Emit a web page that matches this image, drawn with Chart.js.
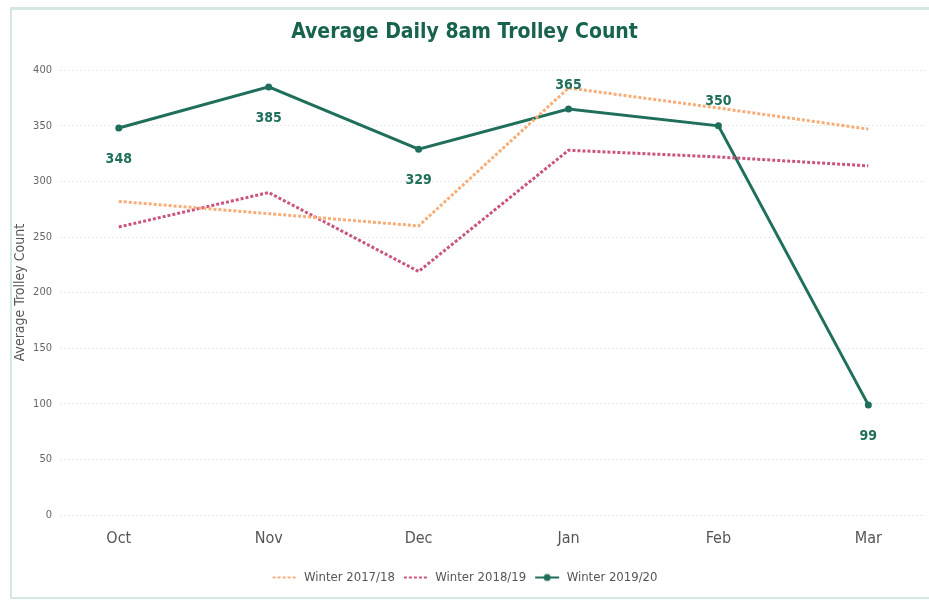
<!DOCTYPE html>
<html>
<head>
<meta charset="utf-8">
<script src="https://cdn.jsdelivr.net/npm/chart.js@4.4.1/dist/chart.umd.min.js"></script>
<style>
  html, body { margin: 0; padding: 0; background: #fff; overflow: hidden; }
  #frame { position: absolute; left: 10px; top: 7px; width: 940px; height: 587px;
           border: 2px solid #d4e8e3; border-top-width: 3px; }
  #wrap { position: absolute; left: 0; top: 0; width: 929px; height: 600px; }
</style>
</head>
<body>
<div id="frame"></div>
<div id="wrap"><canvas id="chart"></canvas></div>
<script>
var months = ['Oct', 'Nov', 'Dec', 'Jan', 'Feb', 'Mar'];
var winter1718 = [282, 271, 260, 384, 366, 347];
var winter1819 = [259, 290, 219, 328, 322, 314];
var winter1920 = [348, 385, 329, 365, 350, 99];
var yTicks = [0, 50, 100, 150, 200, 250, 300, 350, 400];

var labels = ['Winter 2017/18', 'Winter 2018/19', 'Winter 2019/20'];
var colors = ['#f7ad78', '#c9547f', '#1f6f5c'];
var labelSide = ['below', 'below', 'below', 'above', 'above', 'below'];

var font = "'Liberation Sans Narrow', 'DejaVu Sans Condensed', 'Roboto', sans-serif";

var toPoints = (arr) => arr.map((v, i) => ({ x: i, y: v }));

// small legend icons: line (dashed or solid) with optional dot
var legendIcon = (color, dash, dot) => {
  var c = document.createElement('canvas');
  c.width = 26; c.height = 10;
  var g = c.getContext('2d');
  g.strokeStyle = color;
  g.lineWidth = 2;
  g.setLineDash(dash);
  g.beginPath(); g.moveTo(1, 5); g.lineTo(25, 5); g.stroke();
  if (dot) {
    g.fillStyle = color;
    g.beginPath(); g.arc(13, 5, 3.5, 0, Math.PI * 2); g.fill();
  }
  return c;
};
var icons = [
  legendIcon(colors[0], [3, 2], false),
  legendIcon(colors[1], [3, 2], false),
  legendIcon(colors[2], [], true)
];

var valueLabels = {
  id: 'valueLabels',
  afterDatasetsDraw: (chart) => {
    var meta = chart.getDatasetMeta(2);
    var ctx = chart.ctx;
    ctx.save();
    ctx.font = 'bold 14px ' + font;
    ctx.fillStyle = colors[2];
    ctx.textAlign = 'center';
    ctx.textBaseline = 'middle';
    meta.data.forEach((pt, i) => {
      var dy = labelSide[i] === 'above' ? -24 : 31;
      ctx.fillText(String(winter1920[i]), pt.x, pt.y + dy);
    });
    ctx.restore();
  }
};

new Chart(document.getElementById('chart'), {
  type: 'line',
  data: {
    datasets: [
      {
        label: labels[0],
        data: toPoints(winter1718),
        borderColor: colors[0],
        borderWidth: 3,
        borderDash: [3, 2],
        pointRadius: 0
      },
      {
        label: labels[1],
        data: toPoints(winter1819),
        borderColor: colors[1],
        borderWidth: 3,
        borderDash: [3, 2],
        pointRadius: 0
      },
      {
        label: labels[2],
        data: toPoints(winter1920),
        borderColor: colors[2],
        backgroundColor: colors[2],
        borderWidth: 3,
        pointRadius: 3.5,
        pointBorderWidth: 0
      }
    ]
  },
  options: {
    responsive: true,
    maintainAspectRatio: false,
    animation: false,
    layout: { padding: { left: 0, right: 0, top: 0, bottom: 6 } },
    plugins: {
      title: {
        display: true,
        text: 'Average Daily 8am Trolley Count',
        color: '#17634f',
        font: { family: font, size: 21, weight: 'bold' },
        padding: { top: 20, bottom: 25 }
      },
      legend: {
        position: 'bottom',
        labels: {
          usePointStyle: true,
          pointStyleWidth: 26,
          color: '#555',
          font: { family: font, size: 13 },
          padding: 8,
          generateLabels: (chart) => chart.data.datasets.map((d, i) => ({
            text: d.label,
            fontColor: '#555',
            pointStyle: icons[i],
            datasetIndex: i,
            hidden: false,
            lineWidth: 0
          }))
        }
      },
      tooltip: { enabled: false }
    },
    scales: {
      x: {
        type: 'linear',
        min: -0.392,
        max: 5.378,
        afterBuildTicks: (scale) => {
          scale.ticks = months.map((m, i) => ({ value: i }));
        },
        afterFit: (scale) => { scale.height = 48; },
        ticks: {
          callback: (v) => months[v],
          color: '#555',
          font: { family: font, size: 16 },
          padding: 14
        },
        grid: { display: false, drawTicks: false },
        border: { display: false }
      },
      y: {
        min: 0,
        max: 400,
        afterBuildTicks: (scale) => {
          scale.ticks = yTicks.map((v) => ({ value: v }));
        },
        afterFit: (scale) => { scale.width = 60; },
        ticks: {
          color: '#666',
          font: { family: font, size: 11 },
          padding: 8
        },
        title: {
          display: true,
          text: 'Average Trolley Count',
          color: '#555',
          font: { family: font, size: 14 },
          padding: { top: 12, bottom: 4 }
        },
        grid: {
          color: '#e8e8e8',
          lineWidth: 1,
          drawTicks: false
        },
        border: { display: false, dash: [2, 2] }
      }
    }
  },
  plugins: [valueLabels]
});
</script>
</body>
</html>
